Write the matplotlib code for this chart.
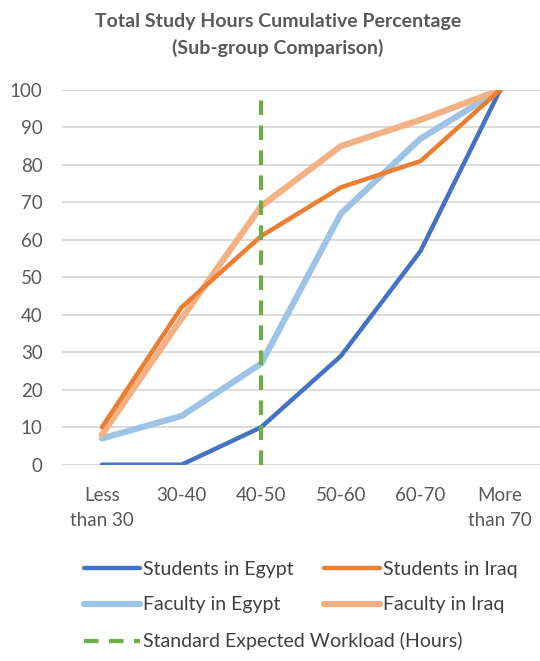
import matplotlib.pyplot as plt

# Cumulative percentage of total study hours per weekly hour band
categories = ["Less\nthan 30", "30-40", "40-50", "50-60", "60-70", "More\nthan 70"]
students_egypt = [0, 0, 10, 29, 57, 100]
students_iraq = [10, 42, 61, 74, 81, 100]
faculty_egypt = [7, 13, 27, 67, 87, 100]
faculty_iraq = [8, 39, 69, 85, 92, 100]

# Standard expected workload band
workload_band = "40-50"
workload_range = [0, 100]

plt.rcParams['font.family'] = ['Lato', 'DejaVu Sans']
text_color = '#595959'

fig = plt.figure(figsize=(5.4, 6.61), dpi=100)
ax = fig.add_axes([0.115, 0.297, 0.885, 0.567])

x = list(range(len(categories)))
fe, = ax.plot(x, faculty_egypt, color='#9DC3E6', linewidth=4.5, label='Faculty in Egypt', solid_capstyle='round')
fi, = ax.plot(x, faculty_iraq, color='#F4B183', linewidth=4.5, label='Faculty in Iraq', solid_capstyle='round')
se, = ax.plot(x, students_egypt, color='#4472C4', linewidth=3.2, label='Students in Egypt', solid_capstyle='round')
si, = ax.plot(x, students_iraq, color='#ED7D31', linewidth=3.2, label='Students in Iraq', solid_capstyle='round')

wx = categories.index(workload_band)
std, = ax.plot([wx, wx], workload_range, color='#70AD47', linewidth=3, linestyle=(0, (3.5, 2.5)),
               label='Standard Expected Workload (Hours)')

ax.set_xlim(-0.5, len(categories) - 0.5)
ax.set_ylim(0, 100)
ax.set_yticks(range(0, 101, 10))
ax.set_xticks(x)
ax.set_xticklabels(categories, linespacing=1.55)
ax.yaxis.grid(True, color='#D9D9D9', linewidth=1.3)
ax.set_axisbelow(True)
for s in ['top', 'right', 'left', 'bottom']:
    ax.spines[s].set_visible(False)
ax.tick_params(axis='both', length=0, labelsize=13.5, colors=text_color)
ax.tick_params(axis='x', pad=16)
ax.tick_params(axis='y', pad=14)

fig.text(0.515, 0.968, 'Total Study Hours Cumulative Percentage', ha='center', va='center',
         fontsize=14, fontweight='bold', color=text_color)
fig.text(0.515, 0.928, '(Sub-group Comparison)', ha='center', va='center',
         fontsize=14, fontweight='bold', color=text_color)

# two legend columns placed side by side so the last entry can run long
leg_kw = dict(frameon=False, fontsize=14, handlelength=2.9, handletextpad=0.15,
              labelspacing=0.97, labelcolor='#404040', borderaxespad=0, borderpad=0)
fig.legend([se, fe, std], [se.get_label(), fe.get_label(), std.get_label()],
           loc='upper left', bbox_to_anchor=(0.155, 0.152), **leg_kw)
fig.legend([si, fi], [si.get_label(), fi.get_label()],
           loc='upper left', bbox_to_anchor=(0.6, 0.152), **leg_kw)

fig.savefig('out.png', dpi=100)
